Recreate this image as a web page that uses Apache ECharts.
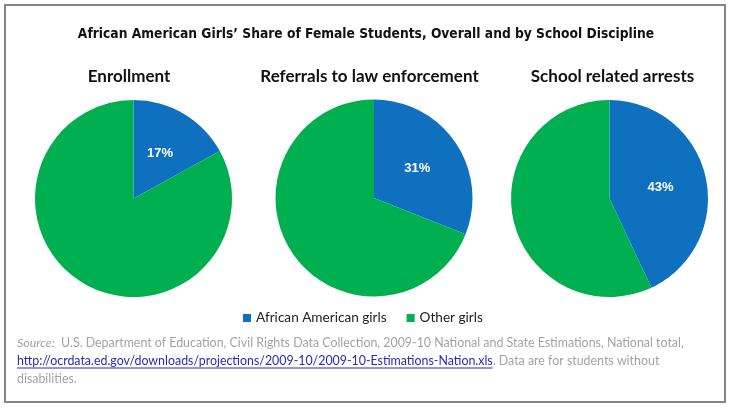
<!DOCTYPE html>
<html><head><meta charset="utf-8">
<script src="https://cdn.jsdelivr.net/npm/echarts@6/dist/echarts.min.js"></script>
<style>html,body{margin:0;padding:0;background:#fff}#c{width:732px;height:410px}</style>
</head><body><div id="c"></div>
<script>
const chartTitle = 'African American Girls\u2019 Share of Female Students, Overall and by School Discipline';
const categories = ['African American girls', 'Other girls'];
const panels = ['Enrollment', 'Referrals to law enforcement', 'School related arrests'];
const africanAmericanShare = [17, 31, 43];
const otherGirlsShare = [83, 69, 57];
const sourceLine1 = 'U.S. Department of Education, Civil Rights Data Collection, 2009-10 National and State Estimations, National total,';
const sourceUrl = 'http://ocrdata.ed.gov/downloads/projections/2009-10/2009-10-Estimations-Nation.xls';
const sourceRest = '. Data are for students without';
const sourceLine3 = 'disabilities.';

const colors = ['#0F70C0', '#00AF50'];
const centers = [[133.5, 198.5], [374, 198], [609.5, 198.5]];
const subX = [129, 369.5, 612.5];
const bodyFont = 'Lato, "Liberation Sans", sans-serif';
const srcFontSize = 12.4;
const srcLeft = 17, srcTop = 334, srcLH = 18;

const chart = echarts.init(document.getElementById('c'));

// measure URL width for underline
const cv = document.createElement('canvas').getContext('2d');
cv.font = srcFontSize + 'px ' + bodyFont;
const urlW = cv.measureText(sourceUrl).width;

const titles = [{
  text: chartTitle, left: 'center', top: 27, padding: 0,
  textStyle: { fontFamily: '"DejaVu Sans Condensed", sans-serif', fontWeight: 'bold', fontSize: 13.7, color: '#111' }
}];
panels.forEach((p, i) => titles.push({
  text: p, left: subX[i], top: 68.5, textAlign: 'center', padding: 0,
  textStyle: { fontFamily: bodyFont, fontWeight: 'bold', fontSize: 17, color: '#111' }
}));
titles.push({
  left: srcLeft, top: srcTop, padding: 0,
  text: '{i|Source:}  ' + sourceLine1 + '\n{u|' + sourceUrl + '}' + sourceRest + '\n' + sourceLine3,
  textStyle: {
    fontFamily: bodyFont, fontSize: srcFontSize, fontWeight: 'normal', color: '#a3a3a3', lineHeight: srcLH,
    rich: {
      i: { fontStyle: 'italic', fontFamily: bodyFont, fontSize: srcFontSize, color: '#a3a3a3', lineHeight: srcLH },
      u: { color: '#2a2ab8', fontFamily: bodyFont, fontSize: srcFontSize, lineHeight: srcLH }
    }
  }
});

const series = panels.map((p, i) => ({
  type: 'pie',
  name: p,
  center: centers[i],
  radius: 98.5,
  startAngle: 90,
  clockwise: true,
  silent: true,
  label: {
    show: true, position: 'inside', color: '#fff', fontSize: 13, fontWeight: 'bold',
    fontFamily: '"Liberation Sans", Arial, sans-serif',
    formatter: (d) => d.dataIndex === 0 ? d.value + '%' : ''
  },
  labelLine: { show: false },
  itemStyle: { borderWidth: 0 },
  data: [
    { name: categories[0], value: africanAmericanShare[i], itemStyle: { color: colors[0] } },
    { name: categories[1], value: otherGirlsShare[i], itemStyle: { color: colors[1] } }
  ]
}));

chart.setOption({
  animation: false,
  color: colors,
  title: titles,
  legend: {
    data: categories, left: 238, top: 306,
    itemWidth: 8, itemHeight: 8, itemGap: 20, icon: 'rect',
    textStyle: { fontFamily: bodyFont, fontSize: 13.6, color: '#222' },
    itemStyle: { borderWidth: 0 }
  },
  graphic: [
    { type: 'rect', shape: { x: 5, y: 5, width: 720, height: 397 }, style: { fill: 'none', stroke: '#858585', lineWidth: 2 }, silent: true },
    { type: 'line', shape: { x1: srcLeft, y1: srcTop + srcLH * 1.5 + 7, x2: srcLeft + urlW, y2: srcTop + srcLH * 1.5 + 7 }, style: { stroke: '#2a2ab8', lineWidth: 1 }, silent: true }
  ],
  series: series
});
</script>
</body></html>
